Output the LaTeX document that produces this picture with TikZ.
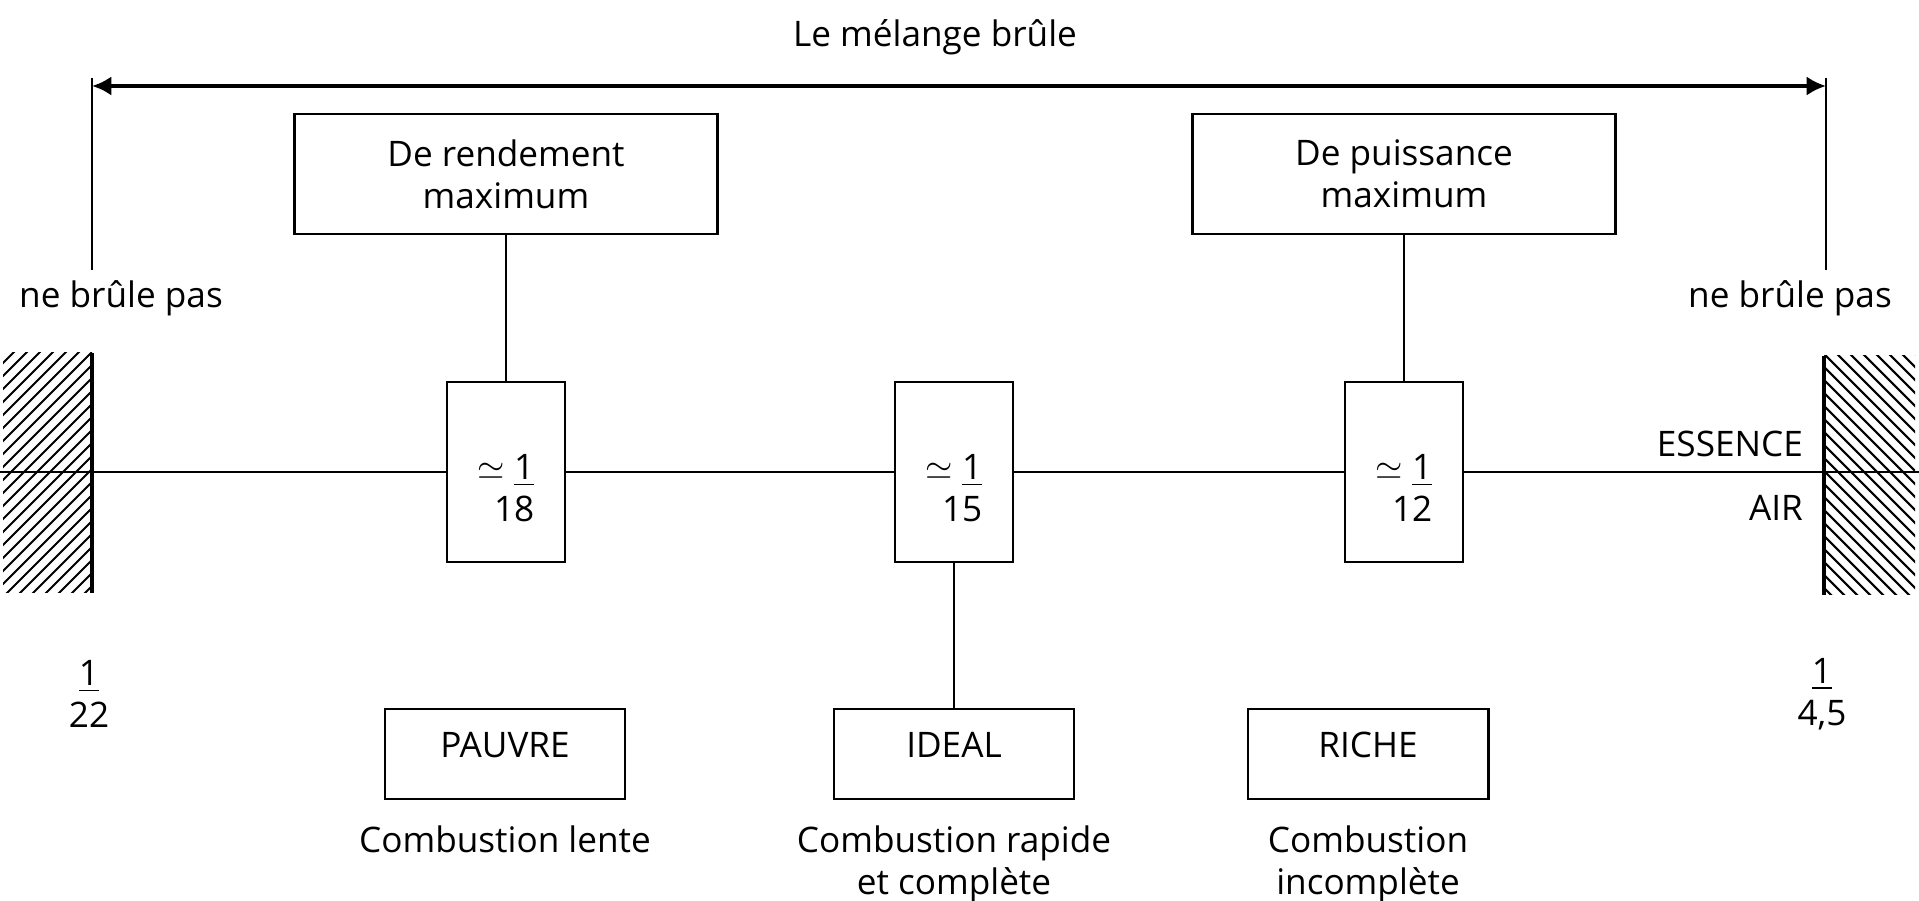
\documentclass[tikz,border=0pt]{standalone}
\usepackage{fontspec}
\setmainfont{Open Sans}
\usetikzlibrary{arrows.meta,positioning}

\begin{document}
\begin{tikzpicture}[x=0.01cm,y=-0.01cm,line width=0.8pt,
  wide/.style={draw,minimum width=4.22cm,minimum height=1.2cm,align=center},
  ratio/.style={draw,minimum width=1.18cm,minimum height=1.8cm},
  kind/.style={draw,minimum width=2.4cm,minimum height=0.9cm,text depth=5pt},
  note/.style={align=center,inner sep=1pt},
  hatch/.style={line width=0.6pt}]
\useasboundingbox (0,0) rectangle (1919,901);
\node (title) at (935,37) {Le mélange brûle};
\coordinate (lt) at (92,78);\coordinate (lb) at (92,270);
\coordinate (rt) at (1826,78);\coordinate (rb) at (1826,270);
\coordinate (la) at (92,86);\coordinate (ra) at (1826,86);
\draw (lt)--(lb);\draw (rt)--(rb);
\draw[{Latex[length=5.5pt,width=5.5pt]}-{Latex[length=5.5pt,width=5.5pt]},line width=1.2pt] (la)--(ra);
\node[anchor=base] (nbl) at (121,308) {ne brûle pas};
\node[anchor=base] (nbr) at (1790,308) {ne brûle pas};
% boxes
\node[wide] (rend) at (506,174) {De rendement\\maximum};
\node[wide] (puis) at (1404,174) {De puissance\\maximum};
\node[ratio] (f18) at (506,472) {};
\node[ratio] (f15) at (954,472) {};
\node[ratio] (f12) at (1404,472) {};
\node[align=right] (q18) at ([yshift=-0.16cm]f18.center) {$\simeq$ \underline{1}\\18};
\node[align=right] (q15) at ([yshift=-0.16cm]f15.center) {$\simeq$ \underline{1}\\15};
\node[align=right] (q12) at ([yshift=-0.16cm]f12.center) {$\simeq$ \underline{1}\\12};
\node[kind] (pauvre) at (505,754) {PAUVRE};
\node[kind] (ideal) at (954,754) {IDEAL};
\node[kind] (riche) at (1368,754) {RICHE};
\node[note,below=2mm of pauvre] (lente) {Combustion lente};
\node[note,below=2mm of ideal] (rapide) {Combustion rapide\\et complète};
\node[note,below=2mm of riche] (incompl) {Combustion\\incomplète};
% line essence / air
\coordinate (w) at (0,472);\coordinate (e) at (1919,472);
\draw (w)--(f18);\draw (f18)--(f15);\draw (f15)--(f12);\draw (f12)--(e);
\draw (rend)--(f18);\draw (puis)--(f12);\draw (f15)--(ideal);
\node[anchor=base east] (ess) at (1816,457) {ESSENCE};
\node[anchor=base east] (air) at (1816,521) {AIR};
\node[align=center] (d22) at (89,694) {\underline{1}\\22};
\node[align=center] (d45) at (1822,694) {\underline{1}\\4,5};
% hatched limits
\begin{scope}
\clip (3,353) rectangle (92,593);
\foreach \c in {353,366,...,700} \draw[hatch] (0,\c)--++(120,-120);
\end{scope}
\draw[line width=1.2pt] (92,353)--(92,593);
\begin{scope}
\clip (1824,356) rectangle (1915,595);
\foreach \c in {250,263,...,600} \draw[hatch] (1824,\c)--++(120,120);
\end{scope}
\draw[line width=1.2pt] (1824,356)--(1824,595);
\end{tikzpicture}
\end{document}
